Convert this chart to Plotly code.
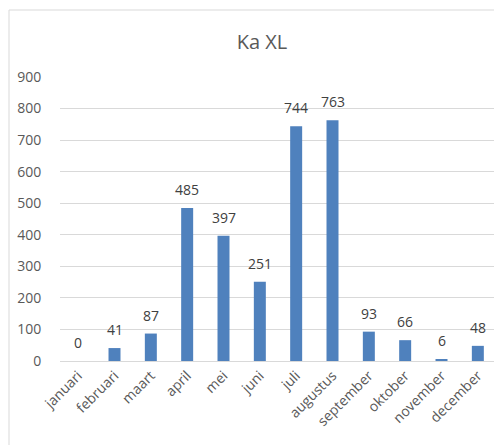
import plotly.graph_objects as go

months = ["januari", "februari", "maart", "april", "mei", "juni", "juli",
          "augustus", "september", "oktober", "november", "december"]
values = [0, 41, 87, 485, 397, 251, 744, 763, 93, 66, 6, 48]
y_ticks = [0, 100, 200, 300, 400, 500, 600, 700, 800, 900]

FONT = "Open Sans, Noto Sans, sans-serif"

fig = go.Figure()
fig.add_trace(go.Bar(
    x=months, y=values,
    marker=dict(color="#4F81BD", line=dict(width=0)),
    hoverinfo="x+y",
))

# page body has an 8px margin; figure is sized/positioned to compensate
OFF = 8
W, H = 502 - OFF, 445 - OFF
L, T = 60 - OFF, 77 - OFF
R = W - (496 - OFF)
B = H - (361 - OFF)
pw, ph = W - L - R, H - T - B

annotations = [dict(x=m, y=v, xref="x", yref="y", text=str(v), showarrow=False,
                    yanchor="bottom", yshift=7,
                    font=dict(family=FONT, size=14, color="#404040"))
               for m, v in zip(months, values)]

fig.update_layout(
    width=W, height=H,
    margin=dict(l=L, r=R, t=T, b=B, autoexpand=False),
    paper_bgcolor="white", plot_bgcolor="white",
    bargap=0.67,
    showlegend=False,
    title=dict(text="Ka XL", x=(262 - OFF) / W, xanchor="center", y=1 - (42 - OFF) / H,
               yanchor="middle",
               font=dict(family=FONT, size=20, color="#595959")),
    font=dict(family=FONT, size=12, color="#595959"),
    xaxis=dict(tickangle=-45, showgrid=False, showline=True, linecolor="#D9D9D9",
               linewidth=1, ticks="", automargin=False,
               tickfont=dict(size=14, color="#595959")),
    yaxis=dict(range=[0, 900], tickvals=y_ticks, showgrid=True, gridcolor="#D9D9D9",
               gridwidth=1, zeroline=False, showline=False,
               ticks="outside", ticklen=15, tickcolor="rgba(0,0,0,0)", automargin=False,
               tickfont=dict(size=14, color="#595959")),
    annotations=annotations,
    shapes=[dict(type="rect", xref="paper", yref="paper",
                 x0=(9 - OFF - L) / pw, x1=(W + 5 - L) / pw,
                 y0=-(H + 5 - T - ph) / ph, y1=(H - B - (10 - OFF)) / ph,
                 line=dict(color="#D9D9D9", width=1), fillcolor="rgba(0,0,0,0)",
                 layer="below")],
)

fig.write_html("out.html")
